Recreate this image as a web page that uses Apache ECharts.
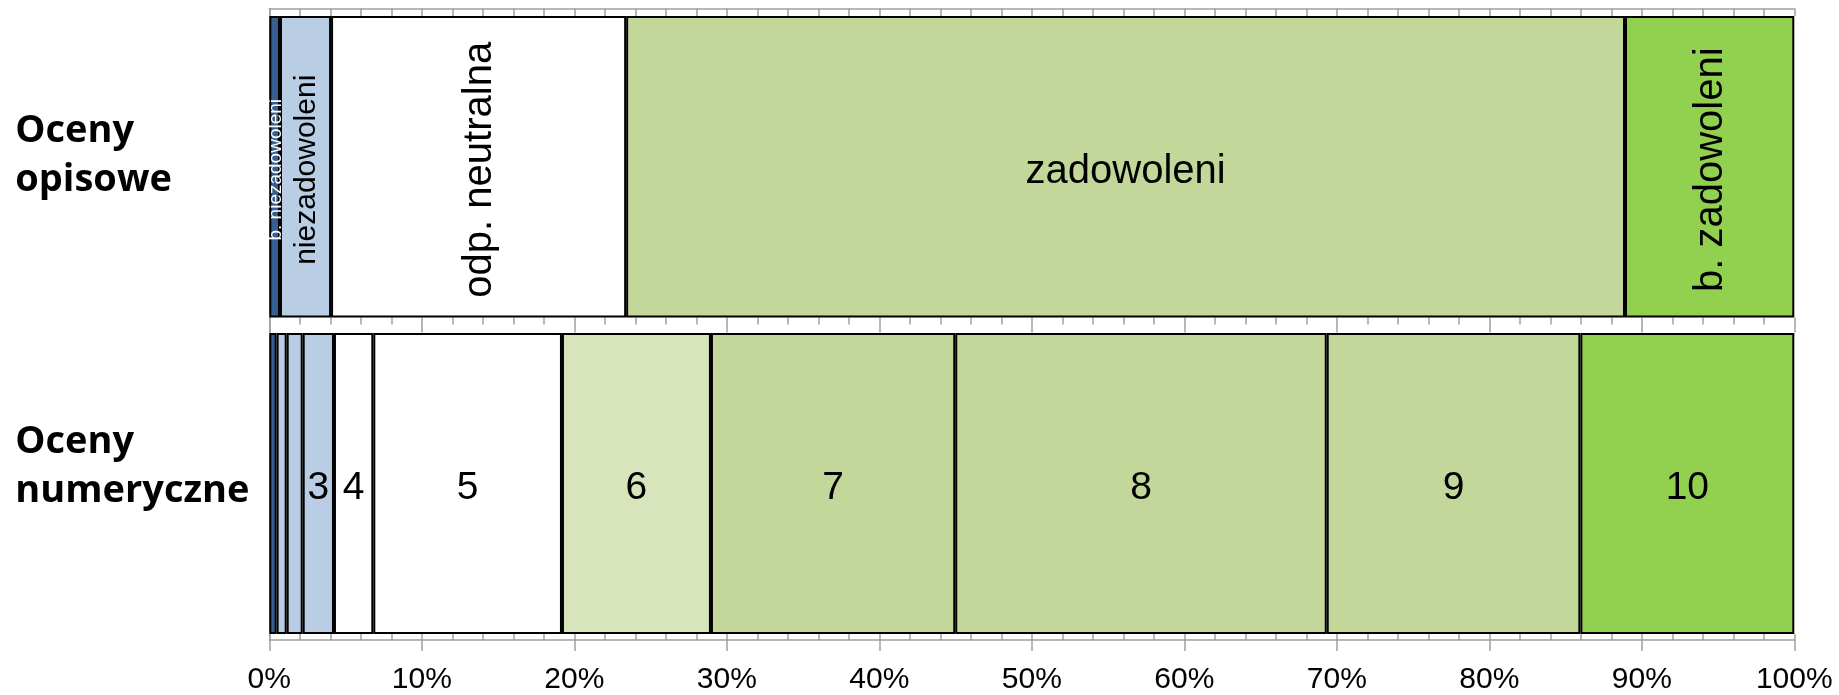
<!DOCTYPE html>
<html>
<head>
<meta charset="utf-8">
<script src="https://cdn.jsdelivr.net/npm/echarts@6/dist/echarts.min.js"></script>
<style>
  html, body { margin: 0; padding: 0; background: #ffffff; }
  #chart { width: 1839px; height: 695px; }
</style>
</head>
<body>
<div id="chart"></div>
<script>
// ---- data ----
const categories = ['Oceny opisowe', 'Oceny numeryczne'];
const opisoweNames = ['b. niezadowoleni', 'niezadowoleni', 'odp. neutralna', 'zadowoleni', 'b. zadowoleni'];
const opisoweValues = [0.7, 3.35, 19.35, 65.5, 11.1];
const numeryczneNames = ['0', '1', '2', '3', '4', '5', '6', '7', '8', '9', '10'];
const numeryczneValues = [0.48, 0.66, 1.05, 2.05, 2.58, 12.37, 9.77, 16.02, 24.36, 16.63, 14.03];
const axisMin = 0, axisMax = 100, axisStep = 10, minorStep = 2;
const tickLabelSuffix = '%';

// ---- styles ----
const DARK = '#366092', LBLUE = '#b9cde5', WHITE = '#ffffff', LGREEN = '#d8e4bc', MGREEN = '#c4d79b', BGREEN = '#92d050';
const opisoweColors = [DARK, LBLUE, WHITE, MGREEN, BGREEN];
const opisoweLabelStyle = [
  { rotate: 90, fontSize: 19, color: '#ffffff' },
  { rotate: 90, fontSize: 30, color: '#000000' },
  { rotate: 90, fontSize: 40, color: '#000000' },
  { rotate: 0, fontSize: 40, color: '#000000' },
  { rotate: 90, fontSize: 40, color: '#000000' }
];
const numColors = [DARK, LBLUE, LBLUE, LBLUE, WHITE, WHITE, LGREEN, MGREEN, MGREEN, MGREEN, BGREEN];
const numShowLabel = [false, false, false, true, true, true, true, true, true, true, true];
const GREY = '#a0a0a0';
const FONT = '"Liberation Sans", Arial, sans-serif';

const L = 269.3, R = 1839 - 1794.3;

const series = [];
opisoweNames.forEach((name, i) => {
  const st = opisoweLabelStyle[i];
  series.push({
    type: 'bar', name: name, stack: 'op', xAxisIndex: 0, yAxisIndex: 0,
    barWidth: '100%', silent: true,
    data: [opisoweValues[i]],
    itemStyle: { color: opisoweColors[i], borderColor: '#000', borderWidth: 2 },
    label: {
      show: true, position: 'inside', formatter: name,
      rotate: st.rotate, fontSize: st.fontSize,
      offset: st.rotate ? [-3, 1] : [0, 5],
      color: st.color, fontFamily: FONT
    }
  });
});
numeryczneNames.forEach((name, i) => {
  series.push({
    type: 'bar', name: 'n' + name, stack: 'num', xAxisIndex: 1, yAxisIndex: 1,
    barWidth: '100%', silent: true,
    data: [numeryczneValues[i]],
    itemStyle: { color: numColors[i], borderColor: '#000', borderWidth: 2 },
    label: {
      show: numShowLabel[i], position: 'inside', formatter: name,
      fontSize: 39, color: '#000', fontFamily: FONT, offset: [0, 5]
    }
  });
});

const catLabelRich = {
  t: { fontSize: 38, fontWeight: 'bold', fontFamily: '"Open Sans", sans-serif', color: '#000', lineHeight: 49 },
  s1: { fontSize: 10, lineHeight: 22 },
  s2: { fontSize: 10, lineHeight: 34 }
};

const hiddenLine = { show: false, onZero: false };
const option = {
  animation: false,
  backgroundColor: '#ffffff',
  grid: [
    { left: L, right: R, top: 16, height: 301.5 },
    { left: L, right: R, top: 333, height: 301 },
    { left: L, right: R, top: 8.5, height: 632.5 }
  ],
  xAxis: [
    { // grid1 bottom: ticks hanging into the gap
      type: 'value', gridIndex: 0, position: 'bottom', min: axisMin, max: axisMax, interval: axisStep,
      axisLine: hiddenLine, splitLine: { show: false }, axisLabel: { show: false },
      axisTick: { show: true, inside: false, length: 15, lineStyle: { color: GREY, width: 1.5 } },
      minorTick: { show: true, splitNumber: axisStep / minorStep, length: 7, lineStyle: { color: GREY, width: 1.5 } }
    },
    { // grid2 hidden
      type: 'value', gridIndex: 1, position: 'bottom', min: axisMin, max: axisMax, interval: axisStep,
      axisLine: hiddenLine, splitLine: { show: false }, axisLabel: { show: false }, axisTick: { show: false }
    },
    { // frame top
      type: 'value', gridIndex: 2, position: 'top', min: axisMin, max: axisMax, interval: minorStep,
      axisLine: { show: true, onZero: false, lineStyle: { color: GREY, width: 1.5 } },
      splitLine: { show: false }, axisLabel: { show: false },
      axisTick: { show: true, inside: true, length: 7.5, lineStyle: { color: GREY, width: 1.5 } }
    },
    { // frame bottom with labels and outward major ticks
      type: 'value', gridIndex: 2, position: 'bottom', min: axisMin, max: axisMax, interval: axisStep,
      axisLine: { show: true, onZero: false, lineStyle: { color: GREY, width: 1.5 } },
      splitLine: { show: false },
      axisTick: { show: true, inside: false, length: 11, lineStyle: { color: GREY, width: 1.5 } },
      axisLabel: { show: true, margin: 25, fontSize: 30, color: '#000', fontFamily: FONT,
        formatter: v => v + tickLabelSuffix }
    },
    { // frame bottom inward minor ticks
      type: 'value', gridIndex: 2, position: 'bottom', min: axisMin, max: axisMax, interval: minorStep,
      axisLine: hiddenLine, splitLine: { show: false }, axisLabel: { show: false },
      axisTick: { show: true, inside: true, length: 6, lineStyle: { color: GREY, width: 1.5 } }
    }
  ],
  yAxis: [
    {
      type: 'category', gridIndex: 0, data: [categories[0]],
      axisLine: { show: false }, axisTick: { show: false },
      axisLabel: { show: true, align: 'left', margin: 254, rich: catLabelRich,
        formatter: v => v.split(' ').map(w => '{t|' + w + '}').join('\n') + '\n{s1| }' }
    },
    {
      type: 'category', gridIndex: 1, data: [categories[1]],
      axisLine: { show: false }, axisTick: { show: false },
      axisLabel: { show: true, align: 'left', margin: 254, rich: catLabelRich,
        formatter: v => v.split(' ').map(w => '{t|' + w + '}').join('\n') + '\n{s2| }' }
    },
    {
      type: 'value', gridIndex: 2, min: 0, max: 1,
      axisLine: { show: true, onZero: false, lineStyle: { color: GREY, width: 1.5 } },
      axisTick: { show: false }, axisLabel: { show: false }, splitLine: { show: false }
    }
  ],
  series: series
};

const chart = echarts.init(document.getElementById('chart'), null, { renderer: 'canvas' });
chart.setOption(option);
</script>
</body>
</html>
